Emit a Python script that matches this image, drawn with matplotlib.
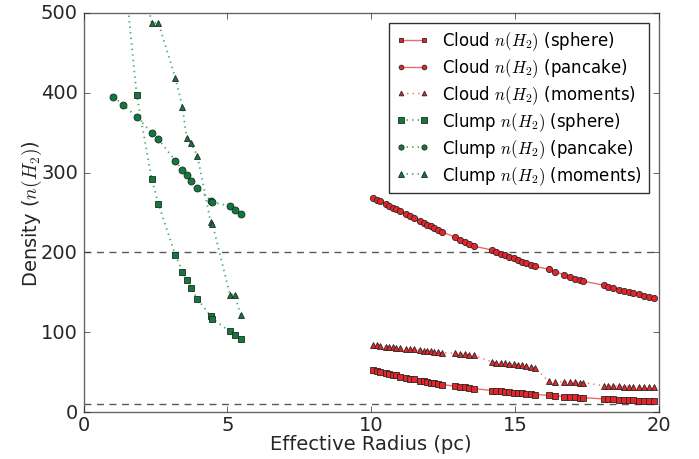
import matplotlib
matplotlib.use('Agg')
import matplotlib.pyplot as plt

plt.style.use('classic')
plt.rcParams['font.family'] = ['DejaVu Sans']
plt.rcParams['mathtext.fontset'] = 'cm'

# 分子云 (cloud) 数据
cloud_r = [10.08, 10.2, 10.32, 10.5, 10.62, 10.75, 10.85, 11.0, 11.2, 11.35, 11.48, 11.7,
           11.82, 11.95, 12.08, 12.2, 12.32, 12.46,
           12.92, 13.1, 13.25, 13.4, 13.56,
           14.2, 14.35, 14.5, 14.65, 14.8, 14.95, 15.1, 15.25, 15.4, 15.55, 15.7,
           16.17, 16.4, 16.7, 16.9, 17.1, 17.25, 17.38,
           18.08, 18.25, 18.42, 18.6, 18.78, 18.95, 19.12, 19.3, 19.48, 19.65, 19.82]
cloud_sphere = [53, 52, 50.5, 49, 48, 47, 46, 44.5, 43, 42, 41, 39.5, 38.5, 38, 37, 36.5, 35.5, 34.5,
                32.5, 31.5, 31, 30, 29.5,
                27, 26.5, 26, 25.5, 25, 24.5, 24, 23.5, 23, 22.5, 22,
                21, 20.5, 19.5, 19, 18.5, 18, 18,
                16.5, 16.2, 15.8, 15.5, 15.2, 15, 14.7, 14.4, 14.1, 13.9, 13.6]
cloud_pancake = [268, 266, 264, 261, 258.5, 256, 254.5, 252, 248, 245.5, 243, 239.5, 237, 235, 233,
                 230.5, 228.5, 226,
                 219, 216, 213, 211, 208,
                 203, 200.5, 198.5, 196.5, 194.5, 192.5, 190.5, 188.5, 186.5, 184.5, 182.5,
                 179, 176, 172, 169.5, 167, 165.5, 164,
                 159, 157, 155, 153.5, 152, 150.5, 149, 147.5, 146, 144.5, 143]
cloud_moments = [84, 84, 83, 82, 81.5, 81, 80.5, 80, 79, 79, 78.5, 78, 77, 76.5, 76, 75.5, 75, 74,
                 74, 73, 72.5, 72, 71,
                 63, 62, 61.5, 61, 60.5, 60, 59.5, 59, 58, 57, 55,
                 38.5, 38, 38, 37.5, 37.5, 37, 37,
                 33, 33, 32.5, 32.5, 32, 32, 32, 31.5, 31.5, 31, 31]

# 团块 (clump) 数据
clump_r = [1.04, 1.37, 1.85, 2.37, 2.60, 3.19, 3.44, 3.58, 3.74, 3.96, 4.42, 4.48, 5.09, 5.25, 5.47]
clump_sphere = [700, 570, 397, 292, 261, 197, 176, 165, 155, 142, 120, 117, 101, 96, 91]
clump_pancake = [395, 385, 370, 350, 342, 315, 303, 297, 290, 281, 265, 263, 258, 253, 248]
clump_moments = [820, 700, 585, 487, 488, 419, 382, 344, 337, 321, 238, 236, 147, 147, 121]

red = '#e8242b'
red_line = '#f26a6a'
green = '#0e7a3c'
green_line = '#3fae6e'

fig = plt.figure(figsize=(6.99, 4.6), dpi=100, facecolor='white')
ax = fig.add_axes([0.1195, 0.102, 0.823, 0.8676])

ax.axhline(200, color='0.35', ls='--', lw=1, dashes=(5, 4))
ax.axhline(10, color='0.35', ls='--', lw=1, dashes=(5, 4))

ax.plot(cloud_r, cloud_sphere, color=red_line, ls='-', marker='s', mfc=red, mec='0.15',
        mew=0.6, ms=4.5, label=r'Cloud $n(H_2)$ (sphere)')
ax.plot(cloud_r, cloud_pancake, color=red_line, ls='-', marker='o', mfc=red, mec='0.15',
        mew=0.6, ms=4.5, label=r'Cloud $n(H_2)$ (pancake)')
ax.plot(cloud_r, cloud_moments, color=red_line, ls=':', marker='^', mfc=red, mec='0.15',
        mew=0.6, ms=4.5, label=r'Cloud $n(H_2)$ (moments)')
ax.plot(clump_r, clump_sphere, color=green_line, ls=':', lw=1.3, marker='s', mfc=green, mec='0.15',
        mew=0.6, ms=5, label=r'Clump $n(H_2)$ (sphere)')
ax.plot(clump_r, clump_pancake, color=green_line, ls=':', lw=1.3, marker='o', mfc=green, mec='0.15',
        mew=0.6, ms=5, label=r'Clump $n(H_2)$ (pancake)')
ax.plot(clump_r, clump_moments, color=green_line, ls=':', lw=1.3, marker='^', mfc=green, mec='0.15',
        mew=0.6, ms=5, label=r'Clump $n(H_2)$ (moments)')

ax.set_xlim(0, 20)
ax.set_ylim(0, 500)
ax.set_xticks([0, 5, 10, 15, 20])
ax.set_yticks([0, 100, 200, 300, 400, 500])
ax.tick_params(labelsize=14, colors='0.15')
ax.tick_params(axis='x', pad=2)
for s in ax.spines.values():
    s.set_color('0.4')

ax.set_xlabel('Effective Radius (pc)', fontsize=14, color='0.15', labelpad=0)
ax.set_ylabel(r'Density ($n(H_2)$)', fontsize=14, color='0.15', labelpad=-2)

leg = ax.legend(loc='upper right', fontsize=12, numpoints=2, borderaxespad=0.6,
                handlelength=2.0, labelspacing=0.25, markerscale=0.75, frameon=True)
leg.get_frame().set_edgecolor('0.2')

fig.savefig('out.png', dpi=100, facecolor='white')
